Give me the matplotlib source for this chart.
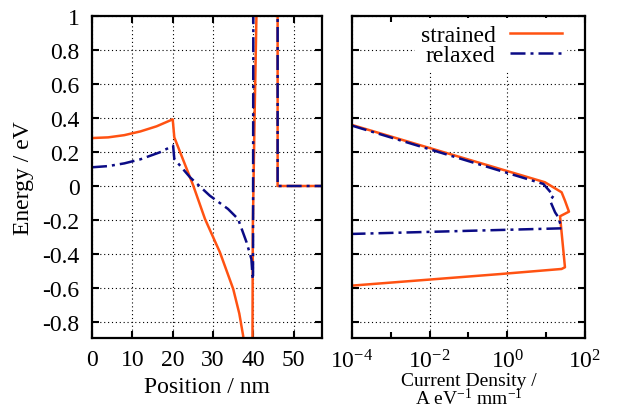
import numpy as np
import matplotlib
matplotlib.use("Agg")
import matplotlib.pyplot as plt
from matplotlib.ticker import NullFormatter, FixedLocator

plt.rcParams['font.family'] = ['Liberation Serif', 'DejaVu Serif']
plt.rcParams['mathtext.fontset'] = 'custom'
plt.rcParams['mathtext.rm'] = 'Liberation Serif'
plt.rcParams['mathtext.it'] = 'Liberation Serif:italic'
plt.rcParams['axes.unicode_minus'] = False

# band profile vs position (nm, eV)
pos_strained = [0, 4, 8, 12, 16, 20, 20.4, 25.1, 28.0, 31.7, 35.0, 36.5, 37.45, 38.2,
                39.75, 39.85, 40.3, 40.75, 41.0, 46, 46, 57]
e_strained = [0.282, 0.286, 0.299, 0.321, 0.351, 0.392, 0.286, 0.002, -0.194, -0.39, -0.606, -0.75, -0.88, -1.1,
              -1.1, -0.25, 0.42, 1.0, 1.5, 1.5, 0.0, 0.0]
pos_relaxed = [0, 4, 8, 12, 16.8, 20.1, 20.4, 24.3, 29.2, 33.7, 36.2, 38.3, 39.5, 39.8, 39.9,
               40.0, 46, 46, 57]
e_relaxed = [0.11, 0.117, 0.133, 0.157, 0.198, 0.237, 0.159, 0.051, -0.057, -0.135, -0.194, -0.331, -0.43, -0.537, -0.55,
             1.5, 1.5, 0.0, 0.0]

# current density vs energy (A eV^-1 mm^-1, eV)
j_strained = [1e-4, 9.3, 25, 30.5, 38.7, 22.8, 30.5, 25, 0.65, 1e-4]
je_strained = [0.359, 0.022, -0.037, -0.086, -0.151, -0.178, -0.478, -0.488, -0.518, -0.586]
j_relaxed = [1e-4, 8.5, 15.5, 12.6, 17, 20.6, 25, 1e-4]
je_relaxed = [0.355, 0.012, -0.057, -0.086, -0.155, -0.184, -0.249, -0.282]

energy_ticks = [-0.8, -0.6, -0.4, -0.2, 0, 0.2, 0.4, 0.6, 0.8, 1]
energy_labels = ['-0.8', '-0.6', '-0.4', '-0.2', '0', '0.2', '0.4', '0.6', '0.8', '1']

orange = '#ff5212'
navy = '#0b0b85'
dashdot = (0, (6, 2, 1.2, 2))

fig = plt.figure(figsize=(6.17, 4.10), dpi=100)
ax1 = fig.add_axes([0.1491, 0.1732, 0.3728, 0.7854])
ax2 = fig.add_axes([0.5705, 0.1732, 0.3776, 0.7854])

grid_kw = dict(color='black', linestyle=(0, (1, 2.5)), linewidth=0.8)

for ax in (ax1, ax2):
    ax.set_ylim(-0.894, 1)
    ax.set_yticks(energy_ticks)
    ax.tick_params(which='both', direction='in', top=True, right=True, width=1.5, labelsize=17)
    ax.tick_params(which='major', length=5)
    ax.tick_params(which='minor', length=4)
    ax.tick_params(axis='y', pad=9)
    ax.tick_params(axis='x', pad=8)
    for s in ax.spines.values():
        s.set_linewidth(1.6)
    ax.grid(True, which='major', **grid_kw)
    ax.set_axisbelow(True)

# left: energy profile
ax1.plot(pos_strained, e_strained, color=orange, lw=1.8, label='strained')
ax1.plot(pos_relaxed, e_relaxed, color=navy, lw=1.8, linestyle=dashdot, label='relaxed')
ax1.set_xlim(0, 57)
ax1.set_xticks([0, 10, 20, 30, 40, 50])
ax1.set_yticklabels(energy_labels)
ax1.set_xlabel('Position / nm', fontsize=17, labelpad=4)
ax1.set_ylabel('Energy / eV', fontsize=17, labelpad=6)

# right: current density
ax2.plot(j_strained, je_strained, color=orange, lw=1.8, label='strained')
ax2.plot(j_relaxed, je_relaxed, color=navy, lw=1.8, linestyle=dashdot, label='relaxed')
ax2.set_xscale('log')
ax2.set_xlim(1e-4, 1e2)
ax2.xaxis.set_major_locator(FixedLocator([1e-4, 1e-2, 1e0, 1e2]))
ax2.xaxis.set_minor_locator(FixedLocator([1e-3, 1e-1, 1e1]))
ax2.xaxis.set_minor_formatter(NullFormatter())
ax2.set_yticklabels([])
ax2.set_xlabel('Current Density /\nA eV$^{-1}$ mm$^{-1}$', fontsize=14, linespacing=0.92, labelpad=-0.5)

leg = ax2.legend(loc='upper right', bbox_to_anchor=(0.935, 1.0), fontsize=17, markerfirst=False,
                 frameon=True, fancybox=False, framealpha=1, edgecolor='none',
                 handlelength=2.2, handletextpad=0.6, labelspacing=-0.05, borderpad=0.25,
                 borderaxespad=0.1)
leg.get_frame().set_facecolor('white')

fig.savefig('out.png', dpi=100)
